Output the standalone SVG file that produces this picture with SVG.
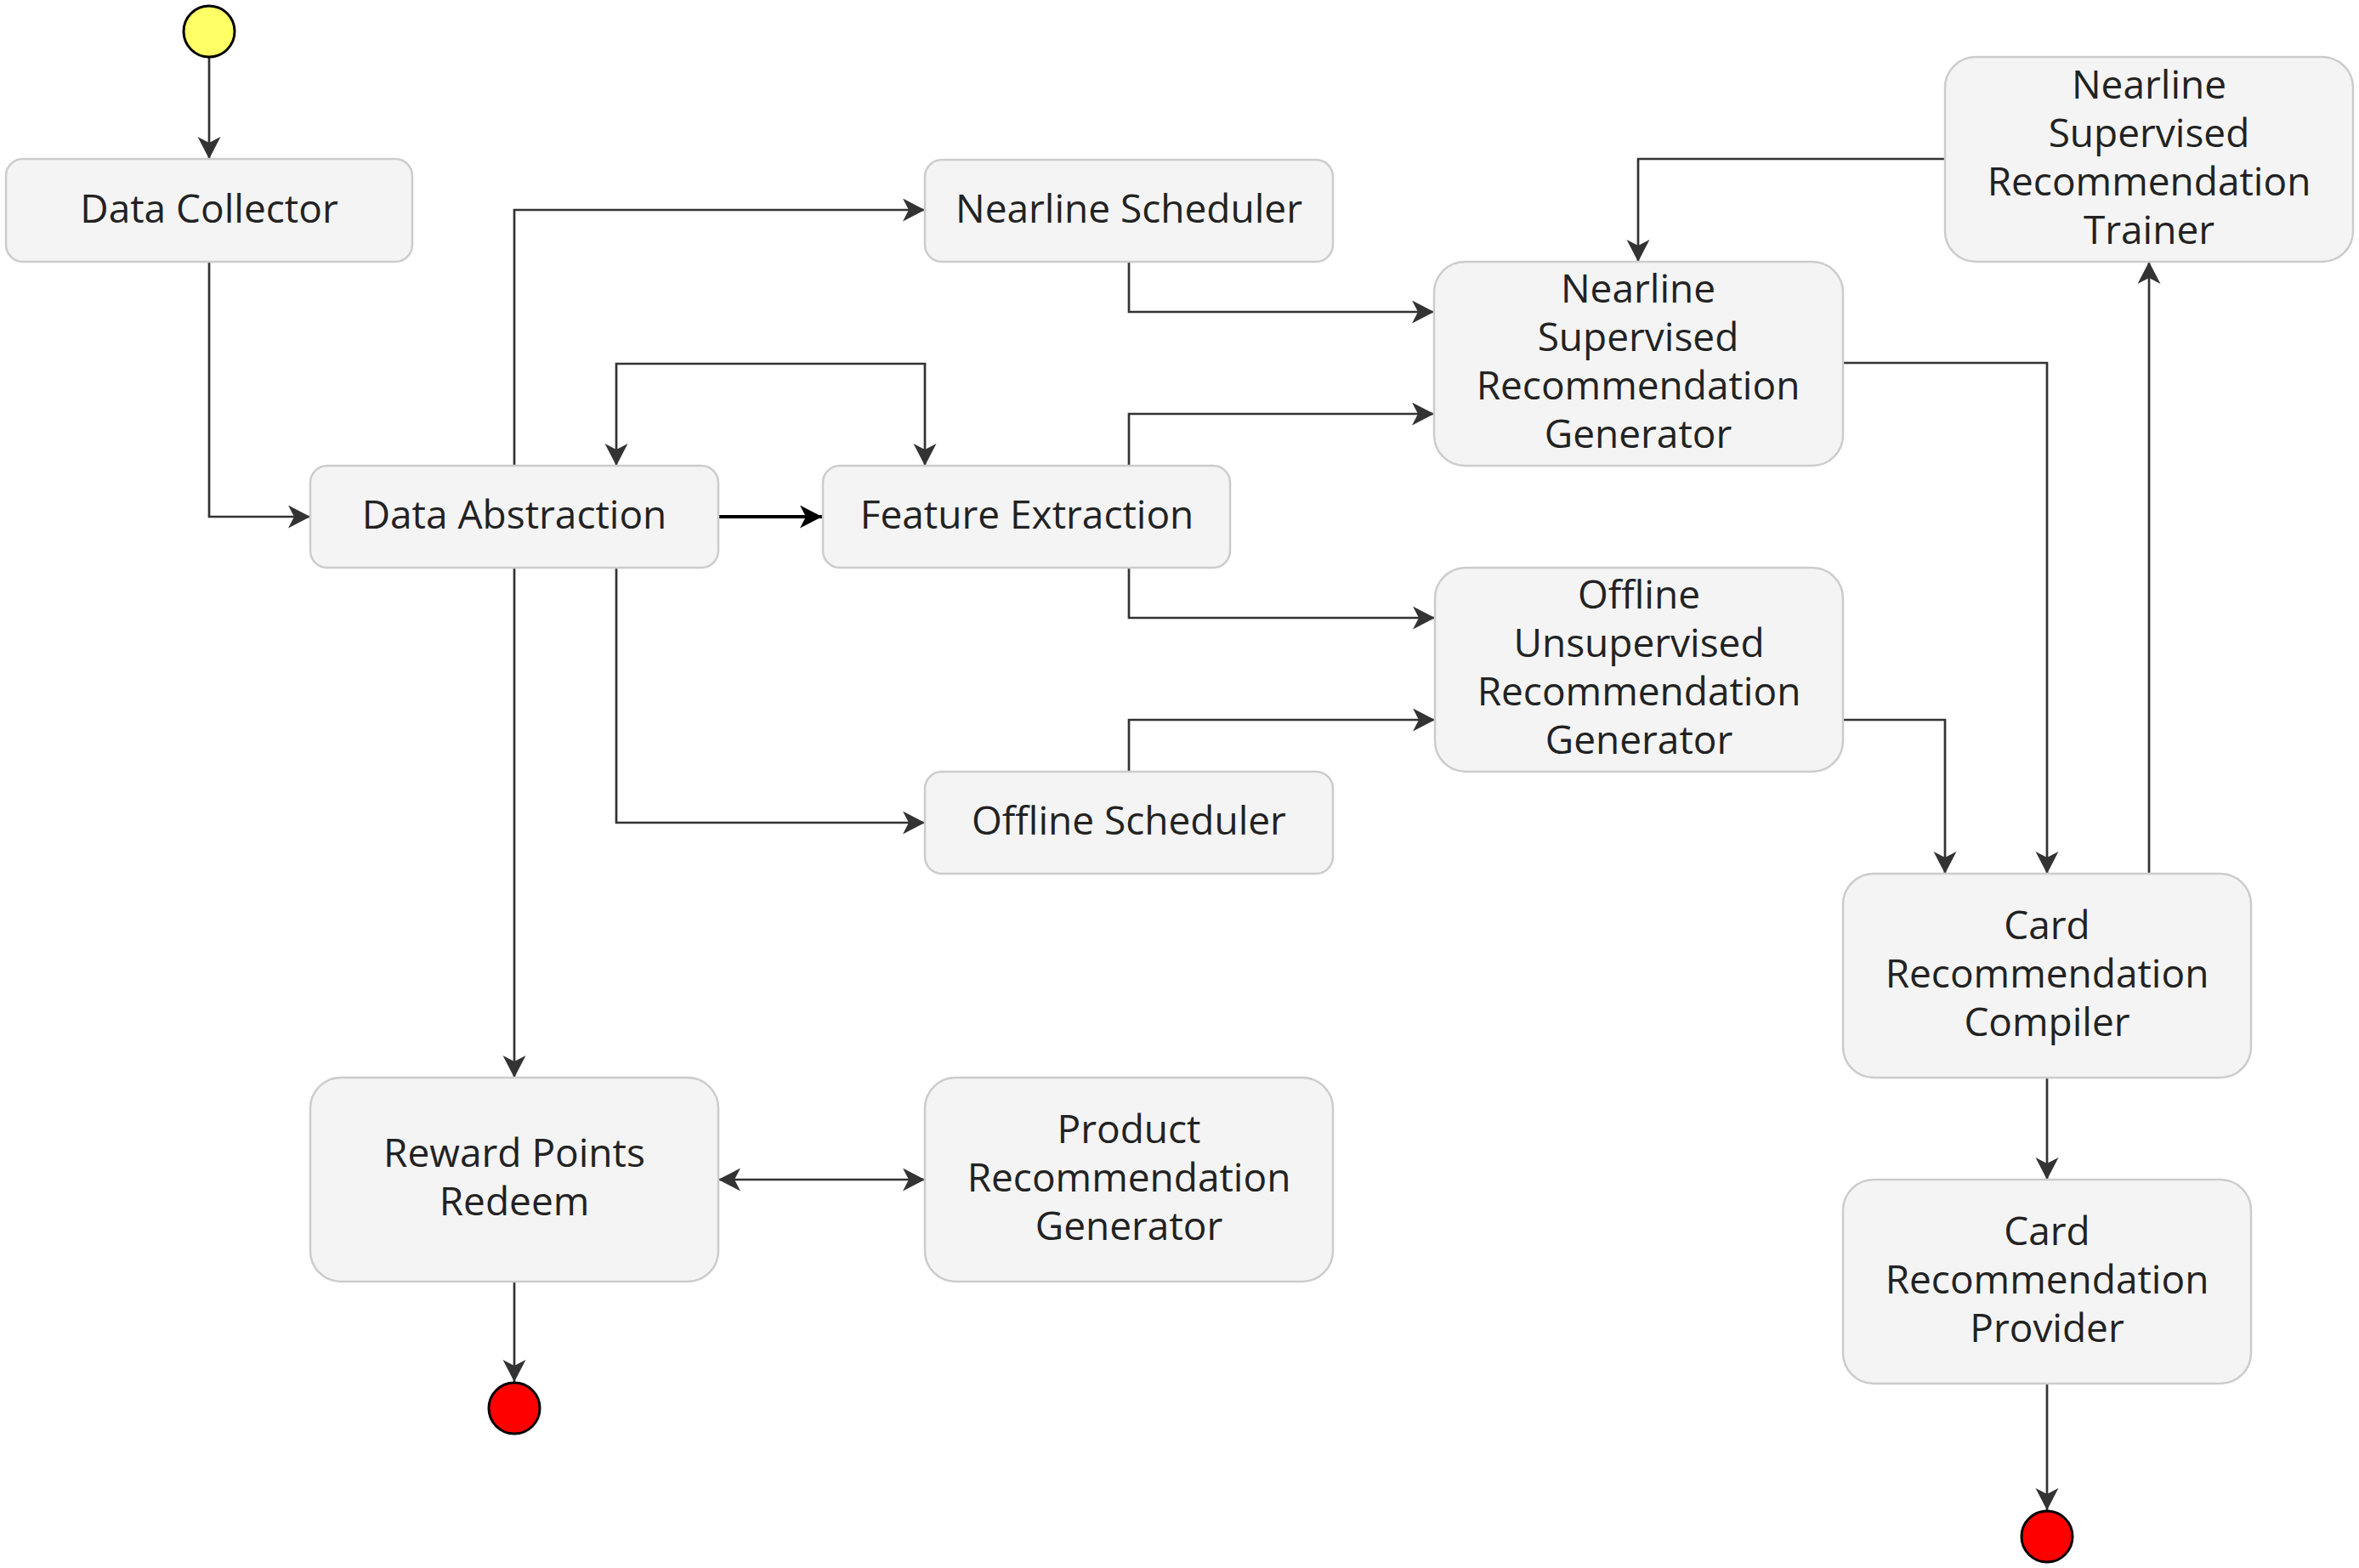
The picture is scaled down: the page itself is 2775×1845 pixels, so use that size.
<svg xmlns="http://www.w3.org/2000/svg" width="2775" height="1845" viewBox="0 0 2775 1845">
<style>
.node rect{fill:#f4f4f4;stroke:#cccccc;stroke-width:2.5}
.node text{font-family:"Open Sans","Noto Sans","Liberation Sans",sans-serif;font-size:46px;fill:#222222;text-anchor:middle}
.edge{fill:none;stroke:#333333;stroke-width:2.7}
.edge-b{fill:none;stroke:#000000;stroke-width:4}
.start{fill:#ffff66;stroke:#000000;stroke-width:3}
.end{fill:#ff0000;stroke:#000000;stroke-width:3}
</style>
<defs>
<marker id="arr" markerUnits="userSpaceOnUse" markerWidth="28" markerHeight="28" refX="26" refY="13.5" orient="auto-start-reverse" viewBox="0 0 28 28">
<path d="M0,0 L26,13.5 L0,27 L7,13.5 Z" fill="#333333"/>
</marker>
<marker id="arrb" markerUnits="userSpaceOnUse" markerWidth="28" markerHeight="28" refX="26" refY="13.5" orient="auto" viewBox="0 0 28 28">
<path d="M0,0 L26,13.5 L0,27 L7,13.5 Z" fill="#000000"/>
</marker>
</defs>
<rect x="0" y="0" width="2775" height="1845" fill="#ffffff"/>

<g id="connectors">
<path class="edge" d="M246,68 L246,187" marker-end="url(#arr)"/>
<path class="edge" d="M246,308 L246,608 L365,608" marker-end="url(#arr)"/>
<path class="edge" d="M605,548 L605,247 L1088,247" marker-end="url(#arr)"/>
<path class="edge" d="M725,548 L725,428 L1088,428 L1088,548" marker-start="url(#arr)" marker-end="url(#arr)"/>
<path class="edge-b" d="M845,608 L967,608" marker-end="url(#arrb)"/>
<path class="edge" d="M1328,308 L1328,367 L1687,367" marker-end="url(#arr)"/>
<path class="edge" d="M1328,548 L1328,487 L1687,487" marker-end="url(#arr)"/>
<path class="edge" d="M1328,668 L1328,727 L1688,727" marker-end="url(#arr)"/>
<path class="edge" d="M1328,908 L1328,847 L1688,847" marker-end="url(#arr)"/>
<path class="edge" d="M725,668 L725,968 L1088,968" marker-end="url(#arr)"/>
<path class="edge" d="M605,668 L605,1268" marker-end="url(#arr)"/>
<path class="edge" d="M845,1388 L1088,1388" marker-start="url(#arr)" marker-end="url(#arr)"/>
<path class="edge" d="M605,1508 L605,1626" marker-end="url(#arr)"/>
<path class="edge" d="M2288,187 L1927,187 L1927,308" marker-end="url(#arr)"/>
<path class="edge" d="M2168,427 L2408,427 L2408,1028" marker-end="url(#arr)"/>
<path class="edge" d="M2168,847 L2288,847 L2288,1028" marker-end="url(#arr)"/>
<path class="edge" d="M2528,1028 L2528,308" marker-end="url(#arr)"/>
<path class="edge" d="M2408,1268 L2408,1388" marker-end="url(#arr)"/>
<path class="edge" d="M2408,1628 L2408,1777" marker-end="url(#arr)"/>
</g>

<g id="start"><circle class="start" cx="246" cy="37" r="30"/></g>

<g id="data-collector" class="node">
<rect x="7" y="187" width="478" height="121" rx="20"/>
<text x="246" y="262">Data Collector</text>
</g>

<g id="data-abstraction" class="node">
<rect x="365" y="548" width="480" height="120" rx="20"/>
<text x="605" y="622">Data Abstraction</text>
</g>

<g id="feature-extraction" class="node">
<rect x="968" y="548" width="479" height="120" rx="20"/>
<text x="1208" y="622">Feature Extraction</text>
</g>

<g id="nearline-scheduler" class="node">
<rect x="1088" y="188" width="480" height="120" rx="20"/>
<text x="1328" y="262">Nearline Scheduler</text>
</g>

<g id="nearline-generator" class="node">
<rect x="1687" y="308" width="481" height="240" rx="36"/>
<text x="1927" y="356">Nearline</text>
<text x="1927" y="413">Supervised</text>
<text x="1927" y="470">Recommendation</text>
<text x="1927" y="527">Generator</text>
</g>

<g id="nearline-trainer" class="node">
<rect x="2288" y="67" width="480" height="241" rx="36"/>
<text x="2528" y="116">Nearline</text>
<text x="2528" y="173">Supervised</text>
<text x="2528" y="230">Recommendation</text>
<text x="2528" y="287">Trainer</text>
</g>

<g id="offline-generator" class="node">
<rect x="1688" y="668" width="480" height="240" rx="36"/>
<text x="1928" y="716">Offline</text>
<text x="1928" y="773">Unsupervised</text>
<text x="1928" y="830">Recommendation</text>
<text x="1928" y="887">Generator</text>
</g>

<g id="offline-scheduler" class="node">
<rect x="1088" y="908" width="480" height="120" rx="20"/>
<text x="1328" y="982">Offline Scheduler</text>
</g>

<g id="card-compiler" class="node">
<rect x="2168" y="1028" width="480" height="240" rx="36"/>
<text x="2408" y="1105">Card</text>
<text x="2408" y="1162">Recommendation</text>
<text x="2408" y="1219">Compiler</text>
</g>

<g id="card-provider" class="node">
<rect x="2168" y="1388" width="480" height="240" rx="36"/>
<text x="2408" y="1465">Card</text>
<text x="2408" y="1522">Recommendation</text>
<text x="2408" y="1579">Provider</text>
</g>

<g id="reward-points" class="node">
<rect x="365" y="1268" width="480" height="240" rx="36"/>
<text x="605" y="1373">Reward Points</text>
<text x="605" y="1430">Redeem</text>
</g>

<g id="product-generator" class="node">
<rect x="1088" y="1268" width="480" height="240" rx="36"/>
<text x="1328" y="1345">Product</text>
<text x="1328" y="1402">Recommendation</text>
<text x="1328" y="1459">Generator</text>
</g>

<g id="end-left"><circle class="end" cx="605" cy="1657" r="30"/></g>
<g id="end-right"><circle class="end" cx="2408" cy="1808" r="30"/></g>
</svg>
